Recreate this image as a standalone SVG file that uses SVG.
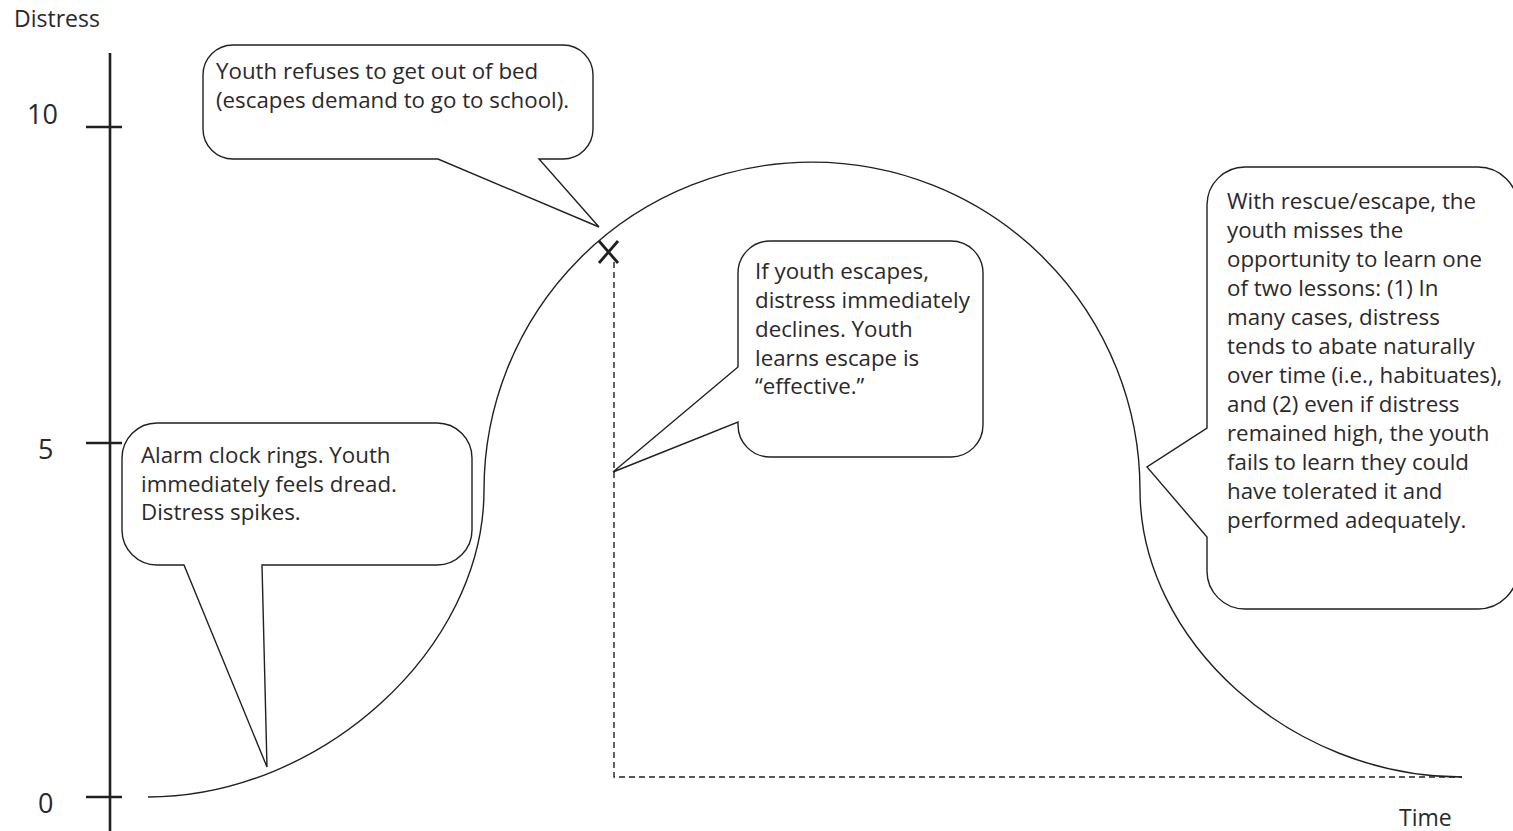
<svg xmlns="http://www.w3.org/2000/svg" width="1513" height="831" viewBox="0 0 1513 831">
  <style>
    .txt { font-family: "Open Sans", "Noto Sans", "Liberation Sans", sans-serif; font-size: 22.3px; fill: #2b2929; }
    .lbl { font-size: 23px; }
    .num { font-size: 27px; }
    .axis { stroke: #231f20; stroke-width: 2.6; fill: none; }
    .curve { stroke: #231f20; stroke-width: 1.4; fill: none; }
    .guide { stroke: #231f20; stroke-width: 1.4; fill: none; stroke-dasharray: 6 4; }
    .bubble { stroke: #231f20; stroke-width: 1.4; fill: #ffffff; }
    .mark { stroke: #231f20; stroke-width: 2.8; fill: none; }
  </style>
  <rect width="1513" height="831" fill="#ffffff"/>

  <!-- vertical axis with ticks -->
  <g id="axis">
    <path class="axis" d="M110,53 V831 M86,127 H122 M86,443 H122 M86,797 H122"/>
    <text class="txt lbl" x="14" y="27">Distress</text>
    <text class="txt num" x="27" y="124">10</text>
    <text class="txt num" x="38" y="459">5</text>
    <text class="txt num" x="38" y="813">0</text>
    <text class="txt lbl" x="1399" y="826">Time</text>
  </g>

  <!-- distress curve, escape guide and escape mark -->
  <g id="connectors">
    <path class="guide" d="M614,262 V777 H1462"/>
    <path class="curve" d="M148,797 C320,797 484,650 484,490 A328,328 0 0 1 1140,490 C1140,640 1290,777 1462,777"/>
    <path class="mark" d="M599,241 L618,263 M618,241 L599,263"/>
  </g>

  <!-- callout: refusing to get out of bed -->
  <g id="callout-refuse">
    <path class="bubble" d="M233,45 H563 A30,30 0 0 1 593,75 V129 A30,30 0 0 1 563,159 H539 L599,227 L438,159 H233 A30,30 0 0 1 203,129 V75 A30,30 0 0 1 233,45 Z"/>
    <text class="txt" x="216" y="79">Youth refuses to get out of bed</text>
    <text class="txt" x="216" y="108">(escapes demand to go to school).</text>
  </g>

  <!-- callout: alarm clock -->
  <g id="callout-alarm">
    <path class="bubble" d="M157,423 H437 A35,35 0 0 1 472,458 V530 A35,35 0 0 1 437,565 H262 L267,767 L184,565 H157 A35,35 0 0 1 122,530 V458 A35,35 0 0 1 157,423 Z"/>
    <text class="txt" x="141" y="463">Alarm clock rings. Youth</text>
    <text class="txt" x="141" y="492">immediately feels dread.</text>
    <text class="txt" x="141" y="520">Distress spikes.</text>
  </g>

  <!-- callout: escape lowers distress -->
  <g id="callout-escape">
    <path class="bubble" d="M770,241 H951 A32,32 0 0 1 983,273 V425 A32,32 0 0 1 951,457 H770 A32,32 0 0 1 738,425 V422 L613,472 L738,367 V273 A32,32 0 0 1 770,241 Z"/>
    <text class="txt" x="755" y="279">If youth escapes,</text>
    <text class="txt" x="755" y="308">distress immediately</text>
    <text class="txt" x="755" y="337">declines. Youth</text>
    <text class="txt" x="755" y="366">learns escape is</text>
    <text class="txt" x="755" y="394">“effective.”</text>
  </g>

  <!-- callout: missed lessons -->
  <g id="callout-lessons">
    <path class="bubble" d="M1245,167 H1478 A40,40 0 0 1 1518,207 V569 A40,40 0 0 1 1478,609 H1245 A38,38 0 0 1 1207,571 V537 L1147,467 L1207,428 V205 A38,38 0 0 1 1245,167 Z"/>
    <text class="txt" x="1227" y="209">With rescue/escape, the</text>
    <text class="txt" x="1227" y="238">youth misses the</text>
    <text class="txt" x="1227" y="267">opportunity to learn one</text>
    <text class="txt" x="1227" y="296">of two lessons: (1) In</text>
    <text class="txt" x="1227" y="325">many cases, distress</text>
    <text class="txt" x="1227" y="354">tends to abate naturally</text>
    <text class="txt" x="1227" y="383">over time (i.e., habituates),</text>
    <text class="txt" x="1227" y="412">and (2) even if distress</text>
    <text class="txt" x="1227" y="441">remained high, the youth</text>
    <text class="txt" x="1227" y="470">fails to learn they could</text>
    <text class="txt" x="1227" y="499">have tolerated it and</text>
    <text class="txt" x="1227" y="528">performed adequately.</text>
  </g>
</svg>
